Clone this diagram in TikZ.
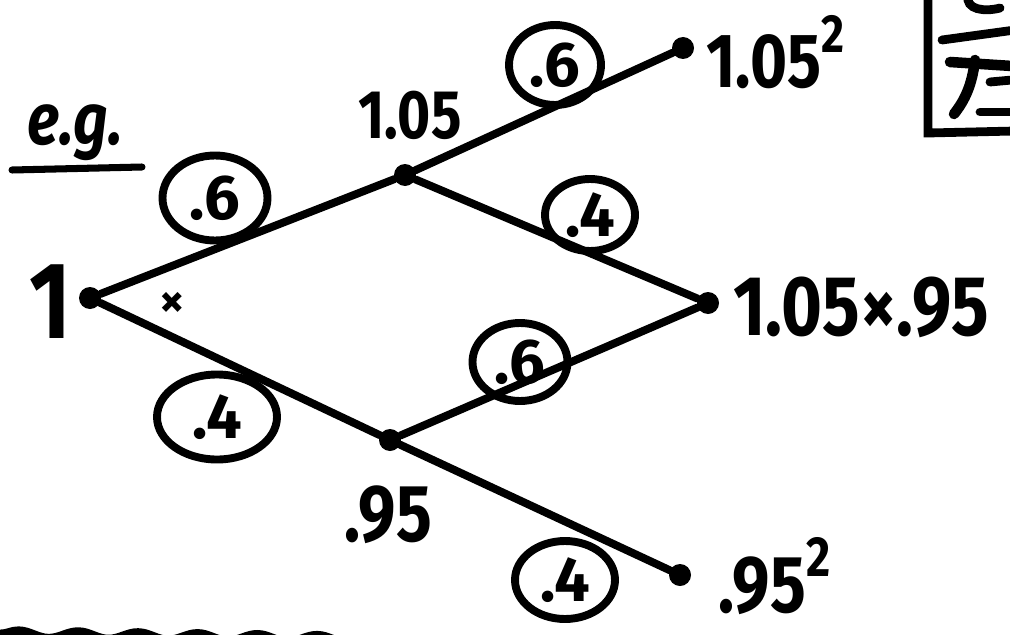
\documentclass[tikz,border=0pt]{standalone}
\usepackage{fontspec}
\setmainfont{Fira Sans}
\usetikzlibrary{decorations.pathmorphing,shapes.geometric}
\newcommand\tall[1]{\scalebox{0.95}[1.15]{#1}}
\newcommand\sq{\raisebox{0.45em}{\scalebox{0.7}{2}}}
\tikzset{
  ink/.style={line width=4.5pt, line cap=round, line join=round},
  vert/.style={circle, fill=black, inner sep=0pt, minimum size=22*0.02cm},
  lab/.style={font=\fontsize{34}{38}\selectfont\bfseries, inner sep=0pt},
  prob/.style={ellipse, draw, line width=4.5pt, inner sep=0pt, font=\fontsize{36}{40}\selectfont\bfseries},
}
\begin{document}
\begin{tikzpicture}[x=0.02cm, y=-0.02cm]
\useasboundingbox (0,0) rectangle (1010,635);
% vertices
\node[vert] (r) at (90,298) {};
\node[vert] (u) at (405,175) {};
\node[vert] (d) at (390,440) {};
\node[vert] (uu) at (683,48) {};
\node[vert] (ud) at (708,303) {};
\node[vert] (dd) at (680,575) {};
% edges
\draw[ink] (r) -- (u);
\draw[ink] (r) -- (d);
\draw[ink] (u) -- (uu);
\draw[ink] (u) -- (ud);
\draw[ink] (d) -- (ud);
\draw[ink] (d) -- (dd);
% value labels
\node[lab, font=\fontsize{54}{58}\selectfont\bfseries] (l1) at (50,302) {\tall{1}};
\node[lab] (lu) at (410,115) {\tall{1.05}};
\node[lab, font=\fontsize{40}{44}\selectfont\bfseries] (ld) at (388,515) {\tall{.95}};
\node[lab, font=\fontsize{38}{42}\selectfont\bfseries, anchor=west] (luu) at (706,52) {\tall{1.05\sq}};
\node[lab, font=\fontsize{42}{46}\selectfont\bfseries, anchor=west] (lud) at (733,307) {\tall{1.05×.95}};
\node[lab, font=\fontsize{40}{44}\selectfont\bfseries, anchor=west] (ldd) at (718,576) {\tall{.95\sq}};
% probability circles
\node[prob, minimum width=105*0.02cm, minimum height=85*0.02cm] (p1) at (215,198) {.6};
\node[prob, minimum width=120*0.02cm, minimum height=85*0.02cm] (p2) at (217,417) {.4};
\node[prob, minimum width=92*0.02cm, minimum height=80*0.02cm] (p3) at (555,65) {.6};
\node[prob, minimum width=90*0.02cm, minimum height=72*0.02cm] (p4) at (590,215) {.4};
\node[prob, minimum width=95*0.02cm, minimum height=78*0.02cm] (p5) at (520,362) {.6};
\node[prob, minimum width=100*0.02cm, minimum height=78*0.02cm] (p6) at (565,580) {.4};
% small cross
\node[font=\fontsize{28}{30}\selectfont\bfseries, inner sep=0pt] (x) at (172,305) {×};
% e.g.
\node[lab, font=\fontsize{36}{40}\selectfont\bfseries\itshape] (eg) at (75,133) {\tall{e.g.}};
\coordinate (egl) at (12,170);
\coordinate (egr) at (142,167);
\draw[line width=4pt, line cap=round] (egl) -- (egr);
% wavy line at bottom
\coordinate (w1) at (0,634);
\coordinate (w2) at (395,640);
\draw[line width=5pt, decorate, decoration={snake, amplitude=2, segment length=34}] (w1) -- (w2);
% box top right (cut off)
\draw[line width=5pt, line cap=round] (928,-5) -- (928,133) -- (1015,131);
\draw[line width=5pt, line cap=round] (942,40) -- (1015,30);
\draw[line width=5pt, line cap=round] (968,-5) .. controls (965,10) and (985,12) .. (1000,8);
\draw[line width=6pt, line cap=round] (950,62) -- (1012,66);
\draw[line width=6pt, line cap=round] (975,60) .. controls (972,85) and (965,100) .. (954,114);
\draw[line width=5pt, line cap=round] (990,82) -- (1012,80);
\draw[line width=5pt, line cap=round] (980,112) -- (1012,112);
\end{tikzpicture}
\end{document}
